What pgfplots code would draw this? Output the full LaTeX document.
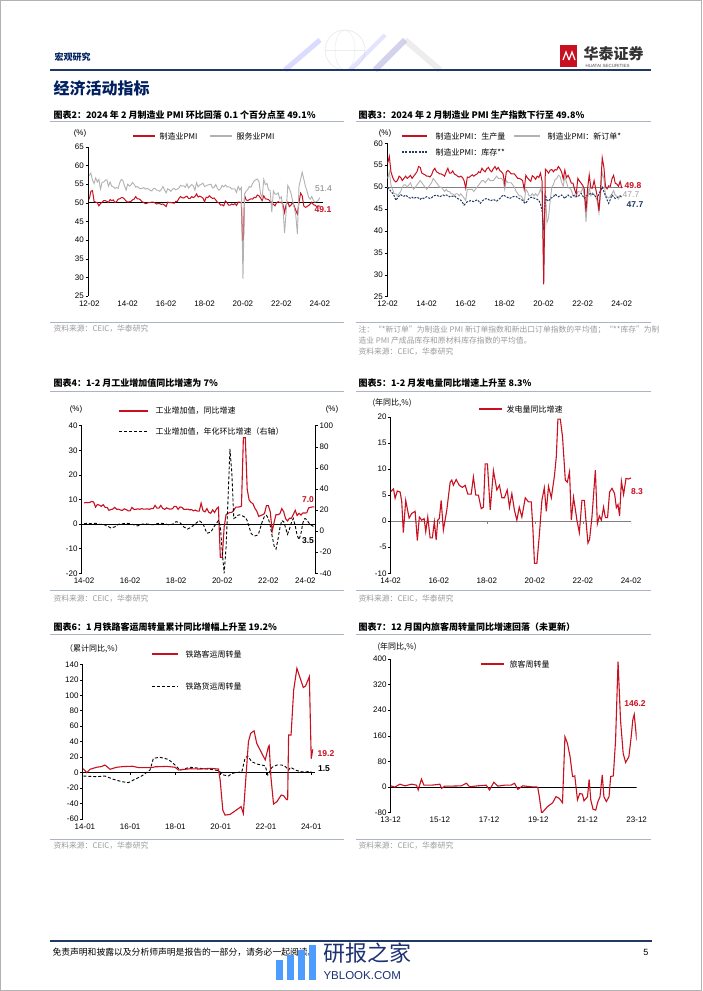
\documentclass[border=0pt]{standalone}
\usepackage{pgfplots}
\pgfplotsset{compat=1.18}
\usepackage{fontspec}
\setmainfont{Liberation Sans}
\newfontfamily\cjk{Noto Sans CJK SC}
\definecolor{hred}{RGB}{200,16,32}
\definecolor{hgray}{RGB}{178,178,178}
\definecolor{hnavy}{RGB}{31,56,100}
\definecolor{hdark}{RGB}{0,32,96}
\definecolor{srcgray}{RGB}{155,155,155}
\definecolor{tline}{RGB}{170,180,195}
\newcommand{\fs}[1]{\fontsize{#1}{#1}\selectfont}
\newcommand{\ttl}[1]{{\cjk\fs{9}\bfseries #1}}
\newcommand{\lgd}[1]{{\cjk\fs{8}#1}}
\newcommand{\srctx}[1]{{\cjk\fs{7.8}\color{srcgray}#1}}
\pgfplotsset{
 cs/.style={scale only axis, anchor=south west,
   axis x line*=bottom, axis y line*=left,
   x axis line style={draw=none}, xtick style={draw=none},
   y axis line style={line width=0.6pt}, ytick style={line width=0.5pt, black},
   tick align=outside, major tick length=2.5pt,
   tick label style={font=\fs{8}},
   yticklabel style={inner sep=1.5pt},
   xticklabel style={inner sep=1pt, yshift=-1pt},
   /pgf/number format/assume math mode=true},
}
\begin{document}
\begin{tikzpicture}
\path[use as bounding box] (0pt,0pt) rectangle (702pt,-991pt);
\fill[white] (0pt,0pt) rectangle (702pt,-991pt);
\draw[gray!60, line width=1pt] (0.5pt,-0.5pt) rectangle (701.5pt,-990.5pt);

% ---------- header ----------
\begin{scope}[opacity=0.35]
\draw[gray!50, line width=0.6pt] (345pt,-50pt) circle (20pt);
\draw[gray!40, line width=0.5pt] (325pt,-50pt) -- (365pt,-50pt);
\draw[gray!40, line width=0.5pt] (345pt,-50pt) ellipse (10pt and 20pt);
\draw[blue!40, line width=5pt] (285pt,-70pt) -- (320pt,-40pt);
\draw[blue!60!black!50, line width=6pt] (375pt,-70pt) -- (405pt,-40pt);
\draw[gray!40, line width=6pt] (405pt,-40pt) -- (440pt,-70pt);
\draw[blue!30, line width=4pt] (350pt,-70pt) -- (385pt,-35pt);
\end{scope}
\node[anchor=west, text=hdark] at (51pt,-57pt) {\cjk\fs{9}\bfseries 宏观研究};
\fill[hred] (560pt,-45pt) rectangle (577pt,-67pt);
\draw[white, line width=1.2pt] (563pt,-60pt) -- (566pt,-52pt) -- (569pt,-60pt);
\draw[white, line width=1.2pt] (569pt,-60pt) -- (572pt,-52pt) -- (575pt,-60pt);
\node[anchor=west, text=black!80] at (580pt,-54pt) {\cjk\fs{15}\bfseries 华泰证券};
\node[anchor=west, text=black!70] at (582pt,-65.5pt) {\fs{4.5}HUATAI SECURITIES};
\draw[hnavy, line width=1.5pt] (50pt,-70pt) -- (651pt,-70pt);
\node[anchor=west, text=hdark] at (50pt,-88pt) {\cjk\fs{16}\bfseries 经济活动指标};

% ---------- titles & rules ----------
\node[anchor=west] at (50pt,-115pt) {\ttl{图表2：2024 年 2 月制造业 PMI 环比回落 0.1 个百分点至 49.1\%}};
\node[anchor=west] at (355pt,-115pt) {\ttl{图表3：2024 年 2 月制造业 PMI 生产指数下行至 49.8\%}};
\node[anchor=west] at (50pt,-383pt) {\ttl{图表4：1-2 月工业增加值同比增速为 7\%}};
\node[anchor=west] at (355pt,-383pt) {\ttl{图表5：1-2 月发电量同比增速上升至 8.3\%}};
\node[anchor=west] at (50pt,-627pt) {\ttl{图表6：1 月铁路客运周转量累计同比增幅上升至 19.2\%}};
\node[anchor=west] at (355pt,-627pt) {\ttl{图表7：12 月国内旅客周转量同比增速回落（未更新）}};
\foreach \yy in {121,391,634,322,590,839}{
  \draw[tline, line width=0.7pt] (50pt,-\yy pt) -- (344pt,-\yy pt);
  \draw[tline, line width=0.7pt] (356pt,-\yy pt) -- (651pt,-\yy pt);
}
\node[anchor=west] at (50pt,-329pt) {\srctx{资料来源：CEIC，华泰研究}};
\node[anchor=west] at (355pt,-330pt) {\srctx{注：“*新订单”为制造业 PMI 新订单指数和新出口订单指数的平均值；“**库存”为制}};
\node[anchor=west] at (355pt,-341pt) {\srctx{造业 PMI 产成品库存和原材料库存指数的平均值。}};
\node[anchor=west] at (355pt,-352pt) {\srctx{资料来源：CEIC，华泰研究}};
\node[anchor=west] at (50pt,-599pt) {\srctx{资料来源：CEIC，华泰研究}};
\node[anchor=west] at (355pt,-599pt) {\srctx{资料来源：CEIC，华泰研究}};
\node[anchor=west] at (50pt,-846pt) {\srctx{资料来源：CEIC，华泰研究}};
\node[anchor=west] at (355pt,-846pt) {\srctx{资料来源：CEIC，华泰研究}};

% ---------- Chart 2 ----------
\begin{axis}[cs, at={(88pt,-296pt)}, width=235pt, height=149pt,
  xmin=0.2, xmax=147, ymin=25, ymax=65, ytick={25,30,...,65},
  xtick={1,25,49,73,97,121,145}, xticklabels={12-02,14-02,16-02,18-02,20-02,22-02,24-02}]
\draw[black, line width=0.8pt] (axis cs:0.2,50) -- (axis cs:147,50);
\addplot[hred, line width=1pt] coordinates {(1,51.0)(2,53.1)(3,53.3)(4,50.4)(5,50.2)(6,50.1)(7,49.2)(8,49.8)(9,50.2)(10,50.6)(11,50.6)
(12,50.4)(13,50.1)(14,50.9)(15,50.6)(16,50.8)(17,50.1)(18,50.3)(19,51.0)(20,51.1)(21,51.4)(22,51.4)(23,51.0)
(24,50.5)(25,50.2)(26,50.3)(27,50.4)(28,50.8)(29,51.0)(30,51.7)(31,51.1)(32,51.1)(33,50.8)(34,50.3)(35,50.1)
(36,49.8)(37,49.9)(38,50.1)(39,50.1)(40,50.2)(41,50.2)(42,50.0)(43,49.7)(44,49.8)(45,49.8)(46,49.6)(47,49.7)
(48,49.4)(49,49.0)(50,50.2)(51,50.1)(52,50.1)(53,50.0)(54,49.9)(55,50.4)(56,50.4)(57,51.2)(58,51.7)(59,51.4)
(60,51.3)(61,51.6)(62,51.8)(63,51.2)(64,51.2)(65,51.7)(66,51.4)(67,51.7)(68,52.4)(69,51.6)(70,51.8)(71,51.6)
(72,51.3)(73,50.3)(74,51.5)(75,51.4)(76,51.9)(77,51.5)(78,51.2)(79,51.3)(80,50.8)(81,50.2)(82,50.0)(83,49.4)
(84,49.5)(85,49.2)(86,50.5)(87,50.1)(88,49.4)(89,49.4)(90,49.7)(91,49.5)(92,49.8)(93,49.3)(94,50.2)(95,50.2)
(96,50.0)(97,35.7)(98,52.0)(99,50.8)(100,50.6)(101,50.9)(102,51.1)(103,51.0)(104,51.5)(105,51.4)(106,52.1)(107,51.9)
(108,51.3)(109,50.6)(110,51.9)(111,51.1)(112,51.0)(113,50.9)(114,50.4)(115,50.1)(116,49.6)(117,49.2)(118,50.1)(119,50.3)
(120,50.1)(121,50.2)(122,49.5)(123,47.4)(124,49.6)(125,50.2)(126,49.0)(127,49.4)(128,50.1)(129,49.2)(130,48.0)(131,47.0)
(132,50.1)(133,52.6)(134,51.9)(135,49.2)(136,48.8)(137,49.0)(138,49.3)(139,49.7)(140,50.2)(141,49.5)(142,49.4)(143,49.0)
(144,49.2)(145,49.1)};
\addplot[hgray, line width=0.9pt] coordinates {(1,57.3)(2,58.0)(3,56.1)(4,55.2)(5,56.7)(6,55.6)(7,56.3)(8,53.7)(9,55.5)(10,55.6)(11,56.1)
(12,56.2)(13,54.5)(14,55.6)(15,54.5)(16,54.3)(17,53.9)(18,54.1)(19,53.9)(20,55.4)(21,56.3)(22,56.0)(23,54.6)
(24,53.4)(25,55.0)(26,54.5)(27,54.8)(28,55.5)(29,55.0)(30,54.2)(31,54.4)(32,54.0)(33,53.8)(34,53.9)(35,54.1)
(36,53.7)(37,53.9)(38,53.7)(39,53.4)(40,53.2)(41,53.8)(42,53.9)(43,53.4)(44,53.4)(45,53.1)(46,53.6)(47,54.4)
(48,53.5)(49,52.7)(50,53.8)(51,53.5)(52,53.1)(53,53.7)(54,53.9)(55,53.5)(56,53.7)(57,54.0)(58,54.7)(59,54.5)
(60,54.6)(61,54.2)(62,55.1)(63,54.0)(64,54.5)(65,54.9)(66,54.5)(67,53.4)(68,55.4)(69,54.3)(70,54.8)(71,55.0)
(72,55.3)(73,54.4)(74,54.6)(75,54.8)(76,54.9)(77,55.0)(78,54.0)(79,54.2)(80,54.9)(81,53.9)(82,53.4)(83,53.8)
(84,54.7)(85,54.3)(86,54.8)(87,54.3)(88,54.3)(89,54.2)(90,53.7)(91,53.8)(92,53.7)(93,52.8)(94,54.4)(95,53.5)
(96,54.1)(97,29.6)(98,52.3)(99,53.2)(100,53.6)(101,54.4)(102,54.2)(103,55.2)(104,55.9)(105,56.2)(106,56.4)(107,55.7)
(108,52.4)(109,51.4)(110,56.3)(111,54.9)(112,55.2)(113,53.5)(114,53.3)(115,47.5)(116,53.2)(117,52.4)(118,52.3)(119,52.7)
(120,51.1)(121,51.6)(122,48.4)(123,41.9)(124,47.8)(125,54.7)(126,53.8)(127,52.6)(128,50.6)(129,48.7)(130,46.7)(131,41.6)
(132,54.4)(133,56.3)(134,58.2)(135,56.4)(136,54.5)(137,53.2)(138,51.5)(139,51.0)(140,51.7)(141,50.6)(142,50.2)(143,50.4)
(144,50.7)(145,51.4)};
\end{axis}
\node at (80pt,-133pt) {\fs{8}(\%)};
\draw[hred, line width=1.5pt] (133pt,-136pt) -- (155pt,-136pt);
\node[anchor=west] at (156pt,-136pt) {\lgd{制造业PMI}};
\draw[hgray, line width=1.2pt] (210pt,-136pt) -- (232pt,-136pt);
\node[anchor=west] at (233pt,-136pt) {\lgd{服务业PMI}};
\node[text=gray] at (323.5pt,-189pt) {\fs{8.5}51.4};
\node[text=hred] at (323pt,-210pt) {\fs{8.5}\bfseries 49.1};

% ---------- Chart 3 ----------
\begin{axis}[cs, at={(387pt,-296.7pt)}, width=237pt, height=153.4pt,
  xmin=0.57, xmax=146.4, ymin=25, ymax=60, ytick={25,30,...,60},
  xtick={1,25,49,73,97,121,145}, xticklabels={12-02,14-02,16-02,18-02,20-02,22-02,24-02}]
\draw[gray, line width=1.2pt] (axis cs:0.57,50) -- (axis cs:145.5,50);
\addplot[hgray, line width=0.9pt] coordinates {(1,52.0)(2,53.5)(3,50.5)(4,49.5)(5,48.5)(6,48.5)(7,48.0)(8,48.5)(9,49.0)(10,50.0)(11,50.5)(12,50.5)(13,50.0)(14,50.5)(15,51.0)(16,50.0)(17,49.5)(18,50.0)(19,50.5)(20,51.0)(21,51.5)(22,51.0)(23,50.5)(24,50.0)(25,49.5)(26,50.0)(27,50.5)(28,51.0)(29,52.0)(30,51.5)(31,51.0)(32,50.5)(33,50.0)(34,50.0)(35,49.5)(36,49.0)(37,49.5)(38,49.0)(39,49.0)(40,48.5)(41,48.5)(42,48.0)(43,48.5)(44,48.5)(45,48.0)(46,48.5)(47,48.0)(48,47.5)(49,47.0)(50,49.5)(51,49.5)(52,49.5)(53,49.5)(54,49.0)(55,49.5)(56,50.0)(57,50.5)(58,51.0)(59,51.5)(60,51.5)(61,51.0)(62,51.5)(63,52.0)(64,51.5)(65,51.5)(66,51.5)(67,52.0)(68,52.5)(69,52.0)(70,52.0)(71,52.0)(72,51.5)(73,49.5)(74,51.5)(75,51.0)(76,51.0)(77,51.0)(78,50.5)(79,50.0)(80,49.0)(81,48.5)(82,48.0)(83,48.0)(84,47.5)(85,46.5)(86,49.5)(87,49.0)(88,48.0)(89,48.0)(90,48.5)(91,48.0)(92,48.5)(93,48.0)(94,48.5)(95,49.5)(96,48.5)(97,29.0)(98,49.2)(99,41.9)(100,43.1)(101,47.0)(102,50.0)(103,50.6)(104,51.8)(105,51.9)(106,52.7)(107,52.5)(108,51.2)(109,50.2)(110,52.4)(111,51.2)(112,49.8)(113,49.8)(114,49.3)(115,48.2)(116,47.8)(117,47.7)(118,49.0)(119,48.9)(120,48.9)(121,49.9)(122,48.0)(123,42.1)(124,47.2)(125,50.0)(126,48.0)(127,48.7)(128,48.4)(129,47.9)(130,46.6)(131,44.1)(132,48.5)(133,53.3)(134,52.0)(135,48.2)(136,47.8)(137,47.5)(138,47.9)(139,48.5)(140,49.2)(141,48.2)(142,47.9)(143,47.3)(144,48.1)(145,47.7)};
\addplot[hnavy, line width=1pt, dash pattern=on 2pt off 1.3pt] coordinates {(1,50)(2,49.5)(3,49)(4,48.6)(5,48)(6,47)(7,47.5)(8,48)(9,48.3)(10,48)(11,47.9)(12,48.2)(13,47.9)(14,47.6)(15,47.5)(16,47.7)(17,47.4)(18,47.6)(19,47.7)(20,47.5)(21,47.2)(22,47.6)(23,47.4)(24,47.6)(25,47.8)(26,47.6)(27,47.4)(28,47.6)(29,47.9)(30,48.1)(31,48.2)(32,48)(33,47.8)(34,48)(35,48.2)(36,48)(37,48.2)(38,48.1)(39,47.8)(40,48)(41,47.9)(42,48)(43,47.7)(44,47.4)(45,47.2)(46,47)(47,46.5)(48,45.9)(49,46.3)(50,46.7)(51,46.8)(52,46.9)(53,46.8)(54,46.7)(55,46.9)(56,47.1)(57,46.8)(58,46.3)(59,46.8)(60,47.1)(61,47.3)(62,47.4)(63,47.2)(64,46.9)(65,47)(66,47.2)(67,47)(68,46.8)(69,47.1)(70,47.4)(71,47.8)(72,48.2)(73,48)(74,47.8)(75,47.6)(76,47.4)(77,47.6)(78,47.8)(79,47.9)(80,47.9)(81,47.6)(82,47.4)(83,47.2)(84,47)(85,46.5)(86,46.3)(87,47)(88,47.4)(89,47.6)(90,47.7)(91,47.5)(92,47.4)(93,47.2)(94,47)(95,46.2)(96,44.5)(97,40.2)(98,48.2)(99,47)(100,46.8)(101,47.4)(102,47.6)(103,47.8)(104,48.4)(105,48.1)(106,47.8)(107,48)(108,48.2)(109,47.8)(110,47.4)(111,47.9)(112,48.2)(113,47.8)(114,47.7)(115,48)(116,48.2)(117,47.9)(118,47.8)(119,48.2)(120,48.6)(121,48)(122,47.4)(123,47.9)(124,48.2)(125,48.4)(126,48.6)(127,48.4)(128,48.2)(129,47.8)(130,47.4)(131,48.5)(132,49.2)(133,50)(134,49)(135,48)(136,47.1)(137,46.3)(138,47.2)(139,48.2)(140,47.8)(141,47.4)(142,47.6)(143,47.8)(144,48)(145,47.7)};
\addplot[hred, line width=1pt] coordinates {(1,55.5)(2,57.0)(3,53.5)(4,52.3)(5,51.5)(6,51.2)(7,51.5)(8,52.5)(9,52.2)(10,51.5)(11,52.0)(12,52.5)(13,52.0)(14,52.3)(15,52.7)(16,52.0)(17,52.5)(18,53.0)(19,53.5)(20,54.7)(21,54.5)(22,53.2)(23,53.0)(24,52.8)(25,52.5)(26,52.5)(27,52.3)(28,52.8)(29,53.8)(30,54.3)(31,53.5)(32,53.3)(33,53.0)(34,53.0)(35,52.8)(36,52.5)(37,53.5)(38,54.3)(39,53.2)(40,53.2)(41,53.7)(42,53.0)(43,52.8)(44,52.5)(45,52.3)(46,52.5)(47,52.2)(48,51.5)(49,49.8)(50,52.3)(51,52.2)(52,52.5)(53,52.8)(54,52.5)(55,52.8)(56,53.0)(57,53.5)(58,53.3)(59,54.3)(60,53.8)(61,53.5)(62,54.2)(63,54.5)(64,53.8)(65,53.5)(66,54.2)(67,54.7)(68,54.0)(69,54.5)(70,53.8)(71,53.5)(72,53.0)(73,50.7)(74,53.5)(75,53.8)(76,53.5)(77,53.0)(78,53.0)(79,53.0)(80,52.5)(81,52.0)(82,52.0)(83,51.8)(84,51.5)(85,49.5)(86,52.7)(87,52.1)(88,51.7)(89,51.3)(90,52.6)(91,52.3)(92,51.8)(93,52.5)(94,52.2)(95,53.2)(96,51.3)(97,27.8)(98,54.1)(99,53.7)(100,53.2)(101,53.9)(102,54.0)(103,53.5)(104,54.0)(105,53.9)(106,54.7)(107,54.2)(108,53.5)(109,51.9)(110,53.9)(111,52.2)(112,52.7)(113,51.9)(114,50.9)(115,50.9)(116,49.5)(117,48.4)(118,52.0)(119,51.4)(120,50.9)(121,50.4)(122,49.5)(123,44.4)(124,49.7)(125,52.8)(126,49.8)(127,49.8)(128,51.5)(129,49.6)(130,47.8)(131,44.6)(132,49.8)(133,56.7)(134,54.6)(135,50.2)(136,49.6)(137,50.3)(138,50.2)(139,51.9)(140,52.7)(141,50.9)(142,50.7)(143,50.2)(144,51.3)(145,49.8)};
\end{axis}
\node at (385pt,-133pt) {\fs{8}(\%)};
\draw[hred, line width=1.5pt] (402pt,-136pt) -- (427pt,-136pt);
\node[anchor=west] at (432pt,-136pt) {\lgd{制造业PMI：生产量}};
\draw[hgray, line width=1.2pt] (514pt,-136pt) -- (540pt,-136pt);
\node[anchor=west] at (544pt,-136pt) {\lgd{制造业PMI：新订单*}};
\draw[hnavy, line width=1.2pt, dash pattern=on 2pt off 1.3pt] (402pt,-152pt) -- (427pt,-152pt);
\node[anchor=west] at (432pt,-152pt) {\lgd{制造业PMI：库存**}};
\node[text=hred] at (633pt,-186pt) {\fs{8.5}\bfseries 49.8};
\node[text=hgray!90!black] at (631pt,-195pt) {\fs{8.5}47.7};
\node[text=hnavy] at (635pt,-204.5pt) {\fs{8.5}\bfseries 47.7};

% ---------- Chart 4 ----------
\begin{axis}[cs, at={(81.7pt,-573.3pt)}, width=233.3pt, height=147.6pt,
  xmin=23.8, xmax=145.3, ymin=-20, ymax=40, ytick={-20,-10,...,40},
  xtick={25,49,73,97,121}, xticklabels={14-02,16-02,18-02,20-02,22-02},
  extra x ticks={145}, extra x tick labels={24-02}, extra x tick style={xticklabel style={xshift=-9pt}}]
\draw[black, line width=0.7pt] (axis cs:23.8,0) -- (axis cs:145.3,0);
\addplot[hred, line width=1.1pt] coordinates {(25,8.6)(26,8.8)(27,8.7)(28,8.8)(29,9.2)(30,9.0)(31,6.9)(32,8.0)(33,7.7)(34,7.2)(35,7.9)
(36,6.8)(37,6.8)(38,5.6)(39,5.9)(40,6.1)(41,6.8)(42,6.0)(43,6.1)(44,5.7)(45,5.6)(46,6.2)(47,5.9)
(48,5.4)(49,5.4)(50,6.8)(51,6.0)(52,6.0)(53,6.2)(54,6.0)(55,6.3)(56,6.1)(57,6.1)(58,6.2)(59,6.0)
(60,6.3)(61,6.3)(62,7.6)(63,6.5)(64,6.5)(65,7.6)(66,6.4)(67,6.0)(68,6.6)(69,6.2)(70,6.1)(71,6.2)
(72,7.2)(73,7.2)(74,6.0)(75,7.0)(76,6.8)(77,6.0)(78,6.0)(79,6.1)(80,5.8)(81,5.9)(82,5.4)(83,5.7)
(84,5.3)(85,5.3)(86,8.5)(87,5.4)(88,5.0)(89,6.3)(90,4.8)(91,4.4)(92,5.8)(93,4.7)(94,6.2)(95,6.9)
(96,-13.5)(97,-13.5)(98,-1.1)(99,3.9)(100,4.4)(101,4.8)(102,4.8)(103,5.6)(104,6.9)(105,6.9)(106,7.0)(107,7.3)
(108,35.1)(109,35.1)(110,14.1)(111,9.8)(112,8.8)(113,8.3)(114,6.4)(115,5.3)(116,3.1)(117,3.5)(118,3.8)(119,4.3)
(120,7.5)(121,7.5)(122,5.0)(123,-2.9)(124,0.7)(125,3.9)(126,3.8)(127,4.2)(128,6.3)(129,5.0)(130,2.2)(131,1.3)
(132,2.4)(133,2.4)(134,3.9)(135,5.6)(136,3.5)(137,4.4)(138,3.7)(139,4.5)(140,4.5)(141,4.6)(142,6.6)(143,6.8)
(144,7.0)(145,7.0)};
\end{axis}
\begin{axis}[cs, at={(81.7pt,-573.3pt)}, width=233.3pt, height=147.6pt,
  xmin=23.8, xmax=145.3, ymin=-40, ymax=100, ytick={-40,-20,...,100},
  axis y line*=right, axis x line=none, yticklabel style={inner sep=2pt}]
\addplot[black, line width=0.9pt, dash pattern=on 3pt off 2pt] coordinates {(25,7)(27,7.5)(29,7)(31,7.5)(33,6.5)(35,6.5)(37,5)(39,3)(41,4)(43,6.5)(45,7)(47,7.5)(49,7)(51,6)(53,5)(55,6.5)(57,7)(59,6.5)(61,6)(63,7)(65,7.5)(67,7)(69,6)(71,6.5)(73,9)(75,8)(77,4)(79,2)(81,4)(83,7)(85,10)(87,7)(89,-2)(91,-1)(93,5)(95,10)(96,5)(97,-20)(98,-40)(99,-15)(100,30)(101,78)(102,55)(103,12)(104,13)(105,15)(106,15.5)(107,15)(108,14)(109,13)(110,10)(111,4)(112,-2)(113,-4)(114,-4.5)(115,-4)(116,-2)(117,4)(118,10)(119,14)(120,15)(121,12)(122,5)(123,-5)(124,-14)(125,-17)(126,-8)(127,3)(128,10)(129,9)(130,3)(131,-3)(132,2)(133,8)(134,12)(135,5)(136,-4)(137,-8)(138,-2)(139,8)(140,12)(141,11)(142,8)(143,6)(144,5)(145,3.5)};
\end{axis}
\node at (76pt,-409pt) {\fs{8}(\%)};
\node at (332pt,-409pt) {\fs{8}(\%)};
\draw[hred, line width=1.5pt] (119pt,-411pt) -- (148pt,-411pt);
\node[anchor=west] at (152pt,-411pt) {\lgd{工业增加值，同比增速}};
\draw[black, line width=0.9pt, dash pattern=on 3pt off 2pt] (119pt,-431pt) -- (148pt,-431pt);
\node[anchor=west] at (152pt,-431pt) {\lgd{工业增加值，年化环比增速（右轴）}};
\node[text=hred] at (308pt,-500pt) {\fs{8.5}\bfseries 7.0};
\node[text=black] at (308pt,-541pt) {\fs{8.5}\bfseries 3.5};

% ---------- Chart 5 ----------
\begin{axis}[cs, at={(390.7pt,-573.3pt)}, width=240.3pt, height=156.3pt,
  xmin=25, xmax=145, ymin=-10, ymax=20, ytick={-10,-5,...,20},
  xtick={25,49,73,97,121,145}, xticklabels={14-02,16-02,18-02,20-02,22-02,24-02}]
\draw[gray, line width=0.7pt] (axis cs:25,0) -- (axis cs:145,0);
\pgfplotsinvokeforeach{49,73,97,121,145}{\draw[gray, line width=0.5pt] (axis cs:#1,0) -- ++(0pt,-2.5pt);}
\addplot[hred, line width=1.1pt] coordinates {(25,5.7)(26.4,6.2)(27.2,4.4)(28.3,5.8)(29.7,5.6)(30.5,3.8)(31.3,-2.2)(32.5,4.0)(34.2,0.6)(35.5,1.5)(37.2,1.9)(38.3,-3.7)(39.3,0.8)(40.5,0.2)(41.7,0.5)(42.5,-2)(43.5,0.8)(44.7,-3.2)(45.8,-3.2)(46.8,-0.1)(47.7,-3.6)(48.5,0.2)(49.3,0.5)(50.2,4.0)(51.3,-1.7)(53,2.1)(54.7,7.5)(55.5,7.9)(56.3,6.9)(57.7,8.0)(59.2,6.9)(60.8,6.5)(62.2,6.9)(63.5,5.2)(65.2,5.2)(66.3,8.5)(67.5,5.0)(68.8,5.0)(70.2,2.4)(71.3,2.7)(72.2,11.0)(73.3,11.0)(74.7,2.2)(76.3,9.7)(78,6.0)(79.3,6.9)(80.5,4.5)(81.8,4.5)(83.2,6.0)(84.3,2.7)(85.5,5.3)(86.8,2.1)(88,0.2)(89.2,2.7)(90.5,0.8)(92.2,4.5)(93.8,3.7)(95.2,3.7)(96,-1.4)(96.8,-8.1)(98,-8.1)(99.3,-2.3)(100.5,4.0)(101.7,6.4)(102.7,1.9)(103.8,6.7)(105.2,4.5)(106.8,8.8)(107.7,12.4)(108.5,19.6)(109.7,19.6)(110.8,16.2)(112.2,7.9)(113.2,7.5)(114.3,9.5)(115.2,0.2)(116.3,4.6)(118,0.2)(119.2,-2.2)(120.5,4.0)(121.7,4.0)(122.5,0.2)(123.5,-4.2)(124.3,-3.5)(125.5,0.8)(127.2,9.8)(128.2,-0.5)(129.2,1.0)(130.2,0.2)(131.3,2.7)(132.2,0.7)(133.3,0.7)(134.3,5.6)(135.5,6.3)(136.8,5.3)(137.7,2.6)(138.5,3.2)(139.3,1.0)(140.2,7.7)(141.3,5.1)(142.5,8.2)(143.8,8.1)(145,8.3)};
\end{axis}
\node at (392pt,-403pt) {\cjk\fs{8}(年同比,\%)};
\draw[hred, line width=1.5pt] (479pt,-409pt) -- (502pt,-409pt);
\node[anchor=west] at (503pt,-409pt) {\lgd{发电量同比增速}};
\node[text=hred] at (637pt,-492pt) {\fs{8.5}\bfseries 8.3};

% ---------- Chart 6 ----------
\begin{axis}[cs, at={(82.7pt,-819pt)}, width=232.3pt, height=154.7pt,
  xmin=22.8, xmax=146, ymin=-60, ymax=140, ytick={-60,-40,...,140},
  xtick={24,48,72,96,120,144}, xticklabels={14-01,16-01,18-01,20-01,22-01,24-01}]
\draw[black, line width=0.7pt] (axis cs:22.8,0) -- (axis cs:146,0);
\pgfplotsinvokeforeach{48,72,96,120,144}{\draw[black, line width=0.5pt] (axis cs:#1,0) -- ++(0pt,-2.5pt);}
\addplot[black, line width=0.9pt, dash pattern=on 3pt off 2pt] coordinates {(23.1,-4.4)(30.2,-5.3)(34.6,-4.4)(39.1,-8.7)(43.5,-11.7)(47,-13)(49.7,-9.6)(54.1,-4.4)(58.5,3.3)(60.3,18.5)(63.8,19.8)(68.3,17)(71.8,9.8)(74.4,3.3)(79.8,6.9)(85.1,5.5)(90.4,4.3)(94.8,2.6)(97.5,-3.1)(100.2,-4.4)(101.9,-1)(104.5,0)(107.2,1.2)(108.9,18.5)(110.3,21.5)(112.4,14.2)(115.1,11.1)(117.8,9.8)(119.6,8.6)(121,-3.1)(123.2,6.9)(125.8,9.8)(128.5,9.8)(130.3,7.7)(132,3.3)(133,6.9)(135.6,3.3)(138.3,1.2)(141,1)(144,1.5)};
\addplot[hred, line width=1.1pt] coordinates {(23.1,5)(24.9,0)(26.7,4.3)(30.2,6.9)(32.8,7.8)(34.6,9.8)(37.3,4.3)(40.8,6.9)(44.4,7.8)(49.2,8.2)(52.4,6.5)(56.8,6.5)(59.5,6.5)(61.2,7.5)(67.4,8)(71.8,6.9)(73.6,3.3)(79.8,5)(85.1,4.6)(90.4,5.5)(94.8,4.6)(95.7,-9.6)(97.1,-48.4)(98.3,-55)(101,-54)(104.5,-48)(106.8,-44)(108,-53)(108.9,-22)(110.7,40)(111.9,50.8)(113.7,54)(115.1,37.7)(117.8,25)(119.6,16.4)(121.3,33.5)(121.7,35)(122.6,-5.3)(124,-40.6)(125.8,-37.6)(128.1,-29)(129.4,-30)(130.8,-34.6)(131.5,-35)(132,48.6)(133.3,48.6)(134.7,106.8)(136.4,134.8)(139.8,110)(141,112)(143,124)(144,18)(144.8,30)};
\end{axis}
\node at (94pt,-649pt) {\cjk\fs{8}（累计同比,\%）};
\draw[hred, line width=1.5pt] (152pt,-654pt) -- (178pt,-654pt);
\node[anchor=west] at (182pt,-654pt) {\lgd{铁路客运周转量}};
\draw[black, line width=0.9pt, dash pattern=on 3pt off 2pt] (152pt,-686pt) -- (178pt,-686pt);
\node[anchor=west] at (182pt,-686pt) {\lgd{铁路货运周转量}};
\node[text=hred] at (326pt,-754pt) {\fs{8.5}\bfseries 19.2};
\node[text=black] at (324pt,-769pt) {\fs{8.5}\bfseries 1.5};

% ---------- Chart 7 ----------
\begin{axis}[cs, at={(390.7pt,-812.7pt)}, width=246pt, height=153.7pt,
  xmin=23, xmax=143, ymin=-80, ymax=400, ytick={-80,0,80,...,400},
  xtick={23,47,71,95,119,143}, xticklabels={13-12,15-12,17-12,19-12,21-12,23-12}]
\draw[black, line width=0.7pt] (axis cs:23,0) -- (axis cs:143,0);
\addplot[hred, line width=1.1pt] coordinates {(23,4)(25,0)(27.5,9)(30,4)(33.2,9)(35.6,6)(36.4,-9)(38,25)(39.2,6)(43,6)(47,9)(47.8,-4)(49.4,3)(52.6,3)(57.5,4)(59.9,12)(61.5,1)(65.6,4)(69.6,6)(71.2,-9)(73.3,15)(75.3,3)(78.5,6)(81.7,6)(83.4,12)(85,-7)(87.4,4)(91.4,1)(94.7,0)(95.5,-30)(96.6,-82)(99.5,-61)(102,-49)(103.6,-30)(105.2,-35)(106.8,-49)(108,157)(109.2,137)(110.5,95)(111.7,33)(112.8,35)(114.1,-40)(115.2,-20)(116.5,-22)(117.3,-43)(119,-30)(119.8,24)(120.6,-40)(121.7,-69)(123,-72)(124.1,-45)(125.1,-30)(126.2,38)(127,-30)(128.2,-45)(129.5,-30)(130.3,33)(131.6,35)(132.7,147)(133.9,392)(135.1,210)(136.4,105)(137.6,77)(139.2,95)(140.3,157)(141.1,210)(141.8,227)(143,146.2)};
\end{axis}
\node at (397pt,-647pt) {\cjk\fs{8}(年同比,\%)};
\draw[hred, line width=1.5pt] (481pt,-664pt) -- (504pt,-664pt);
\node[anchor=west] at (506pt,-664pt) {\lgd{旅客周转量}};
\node[text=hred] at (635pt,-704pt) {\fs{8.5}\bfseries 146.2};

% ---------- footer ----------
\draw[hnavy, line width=1.3pt] (50pt,-941pt) -- (652pt,-941pt);
\node[anchor=west] at (49pt,-952pt) {\cjk\fs{8.8}免责声明和披露以及分析师声明是报告的一部分，请务必一起阅读。};
\node[anchor=east] at (652pt,-952pt) {\fs{9}5};
\fill[blue!55!cyan!70] (276pt,-980pt) rectangle (283pt,-960pt);
\fill[blue!55!cyan!70] (287pt,-980pt) rectangle (294pt,-955pt);
\fill[blue!55!cyan!70] (298pt,-980pt) rectangle (305pt,-950pt);
\fill[blue!55!cyan!70] (309pt,-980pt) rectangle (316pt,-945pt);
\fill[white] (320pt,-943pt) rectangle (428pt,-964pt);
\node[anchor=west, text=hnavy!90!blue] at (320pt,-953pt) {\cjk\fs{22}研报之家};
\node[anchor=west, text=hnavy!90!blue] at (320pt,-976pt) {\fs{11.5}YBLOOK.COM};
\end{tikzpicture}
\end{document}
